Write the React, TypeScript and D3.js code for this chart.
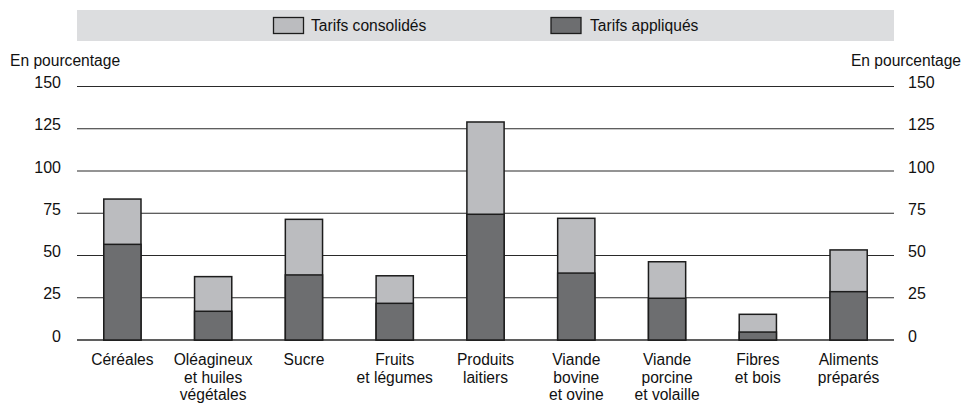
import React from "react";
import * as d3 from "d3";

const categories: string[][] = [
  ["Céréales"],
  ["Oléagineux", "et huiles", "végétales"],
  ["Sucre"],
  ["Fruits", "et légumes"],
  ["Produits", "laitiers"],
  ["Viande", "bovine", "et ovine"],
  ["Viande", "porcine", "et volaille"],
  ["Fibres", "et bois"],
  ["Aliments", "préparés"],
];
const consolidated: number[] = [83.4, 37.5, 71.4, 38, 129, 72, 46.3, 15.2, 53.3];
const applied: number[] = [56.6, 17, 38.5, 21.7, 74.4, 39.6, 24.7, 4.7, 28.6];
const yTicks: number[] = [0, 25, 50, 75, 100, 125, 150];
const seriesNames: string[] = ["Tarifs consolidés", "Tarifs appliqués"];
const unitLabel = "En pourcentage";

const W = 963;
const H = 403;
const left = 77;
const right = 894;
const font = "'Liberation Sans', Arial, Helvetica, sans-serif";
const C_CONS = "#bbbcbf";
const C_APP = "#6d6e70";
const STROKE = "#1c1c1c";

export default function App() {
  const idx = categories.map((_, i) => String(i));
  const x = d3.scaleBand<string>().domain(idx).range([left, right]).paddingInner(0.59).paddingOuter(0.295);
  const y = d3.scaleLinear().domain([0, 150]).range([340, 86.5]);
  const bw = x.bandwidth();

  return (
    <svg width={W} height={H} style={{ position: "absolute", left: 0, top: 0, background: "#fff" }}>
      {/* legend */}
      <rect x={left} y={10} width={right - left} height={31} fill="#dcdddf" />
      <rect x={273.5} y={17.5} width={30} height={16} fill={C_CONS} stroke={STROKE} strokeWidth={1.3} />
      <text x={311} y={31} fontFamily={font} fontSize={15.6} fill="#111">{seriesNames[0]}</text>
      <rect x={551} y={17.5} width={30} height={16} fill={C_APP} stroke={STROKE} strokeWidth={1.3} />
      <text x={590} y={31} fontFamily={font} fontSize={15.6} fill="#111">{seriesNames[1]}</text>

      {/* unit labels */}
      <text x={10} y={66} fontFamily={font} fontSize={15.6} fill="#111">{unitLabel}</text>
      <text x={961} y={66} textAnchor="end" fontFamily={font} fontSize={15.6} fill="#111">{unitLabel}</text>

      {/* gridlines and tick labels */}
      {yTicks.map((t) => (
        <g key={t}>
          <line x1={left} x2={right} y1={y(t)} y2={y(t)} stroke="#2a2a2a" strokeWidth={t === 0 ? 1.4 : 1.1} />
          <text x={61} y={y(t) + 1.5} textAnchor="end" fontFamily={font} fontSize={16} fill="#111">{t}</text>
          <text x={908} y={y(t) + 1.5} textAnchor="start" fontFamily={font} fontSize={16} fill="#111">{t}</text>
        </g>
      ))}

      {/* bars */}
      {idx.map((k, i) => (
        <g key={k}>
          <rect x={x(k)!} y={y(consolidated[i])} width={bw} height={y(0) - y(consolidated[i])} fill={C_CONS} stroke={STROKE} strokeWidth={1.5} />
          <rect x={x(k)!} y={y(applied[i])} width={bw} height={y(0) - y(applied[i])} fill={C_APP} stroke={STROKE} strokeWidth={1.5} />
        </g>
      ))}

      {/* category labels */}
      {idx.map((k, i) => (
        <text key={k} textAnchor="middle" fontFamily={font} fontSize={15.6} fill="#111">
          {categories[i].map((line, j) => (
            <tspan key={j} x={x(k)! + bw / 2} y={365 + j * 17.6}>{line}</tspan>
          ))}
        </text>
      ))}
    </svg>
  );
}
